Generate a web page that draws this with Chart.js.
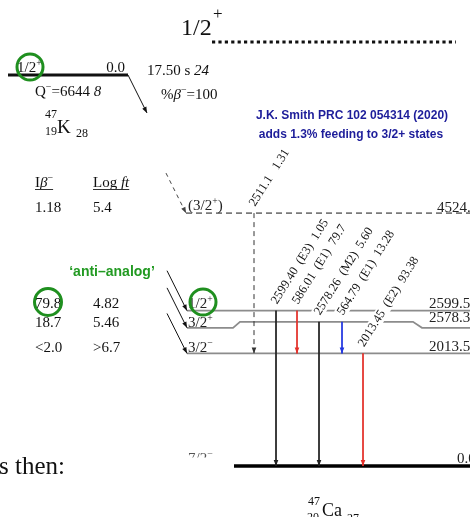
<!DOCTYPE html>
<html>
<head>
<meta charset="utf-8">
<script src="https://cdn.jsdelivr.net/npm/chart.js@4.4.0/dist/chart.umd.min.js"></script>
<style>
  html, body { margin: 0; padding: 0; background: #fff; }
  canvas { display: block; }
</style>
</head>
<body>
<canvas id="scheme" width="470" height="517"></canvas>
<script>
// =========================
// Data: 47K beta- decay to levels of 47Ca
// =========================

const levelEnergies = [0, 2013.5, 2578.3, 2599.5, 4524];
const levelSpins    = ["7/2\u2212", "3/2\u2212", "3/2+", "1/2+", "(3/2+)"];
const betaIntensity = ["", "<2.0", "18.7", "79.8", "1.18"];
const betaLogft     = ["", ">6.7", "5.46", "4.82", "5.4"];

const gammaEnergies = ["2511.1", "2599.40", "586.01", "2578.26", "564.79", "2013.45"];
const gammaMult     = ["", "E3", "E1", "M2", "E1", "E2"];
const gammaIntens   = ["1.31", "1.05", "79.7", "5.60", "13.28", "93.38"];
const gammaFrom     = [4, 3, 3, 2, 2, 1];   // index into levelEnergies
const gammaTo       = [1, 0, 1, 0, 1, 0];

// =========================
// Layout (pixels / drawing only)
// =========================

const KEV_PER_PX = 1 / 0.0559;
const Y_MAX = 466 * KEV_PER_PX;
const Y_MIN = Y_MAX - 517 * KEV_PER_PX;

// [x, vertical shift in px (+ = down)] for every level line
const levelPaths = [
  [[234, 0], [470, 0]],
  [[187, 0], [470, 0]],
  [[187, 6], [233, 6], [240, 0], [413, 0], [422, 6], [470, 6]],
  [[187, -10], [470, -10]],
  [[186, 0], [470, 0]]
];
const gammaX     = [254, 276, 297, 319, 342, 363];
const gammaColor = ["#333", "#222", "#e3302a", "#222", "#2236e0", "#e3302a"];
const spinBase   = [463, 352, 327, 308, 210];   // text baselines, left column
const energyBase = [463, 351, 322, 308, 212];   // text baselines, right column
const tableBase  = [0, 352, 327, 308, 212];

const SERIF = '"Liberation Serif", "Times New Roman", serif';
const SANS  = '"Liberation Sans", Arial, sans-serif';
const font  = (size, style) => (style ? style + " " : "") + size + "px " + SERIF;

function shiftAt(i, x) {
  const p = levelPaths[i];
  for (let k = 1; k < p.length; k++) {
    if (x <= p[k][0]) {
      const [x0, s0] = p[k - 1], [x1, s1] = p[k];
      return s0 + (s1 - s0) * (x - x0) / (x1 - x0);
    }
  }
  return p[p.length - 1][1];
}
const drawnE = (i, x) => levelEnergies[i] - shiftAt(i, x) * KEV_PER_PX;

// =========================
// Datasets
// =========================

const datasets = [];

levelEnergies.forEach((E, i) => {
  datasets.push({
    data: levelPaths[i].map(([x, s]) => ({ x, y: E - s * KEV_PER_PX })),
    borderColor: i === 0 ? "#000" : (i === 4 ? "#7a7a7a" : "#8c8c8c"),
    borderWidth: i === 0 ? 3.5 : 1.8,
    borderDash: i === 4 ? [6, 4] : [],
    order: 2
  });
});

gammaEnergies.forEach((g, k) => {
  const x = gammaX[k];
  datasets.push({
    data: [{ x, y: drawnE(gammaFrom[k], x) }, { x, y: drawnE(gammaTo[k], x) }],
    borderColor: gammaColor[k],
    borderWidth: 1,
    borderDash: k === 0 ? [5, 4] : [],
    arrow: true,
    order: 1
  });
});

// beta feeding arrows into the levels
levelEnergies.forEach((E, i) => {
  if (!betaIntensity[i]) return;
  const xEnd = i === 4 ? 186 : 187;
  const yEnd = drawnE(i, xEnd);
  datasets.push({
    data: [{ x: xEnd - 20, y: yEnd + 40 * KEV_PER_PX }, { x: xEnd, y: yEnd }],
    borderColor: i === 4 ? "#444" : "#111",
    borderWidth: 1,
    borderDash: i === 4 ? [4, 4] : [],
    arrow: true,
    order: 1
  });
});

// =========================
// Drawing helpers
// =========================

function arrowHead(ctx, x0, y0, x1, y1, color) {
  const a = Math.atan2(y1 - y0, x1 - x0);
  const len = 6, half = 2.3;
  ctx.save();
  ctx.fillStyle = color;
  ctx.setLineDash([]);
  ctx.beginPath();
  ctx.moveTo(x1, y1);
  ctx.lineTo(x1 - len * Math.cos(a) + half * Math.sin(a), y1 - len * Math.sin(a) - half * Math.cos(a));
  ctx.lineTo(x1 - len * Math.cos(a) - half * Math.sin(a), y1 - len * Math.sin(a) + half * Math.cos(a));
  ctx.closePath();
  ctx.fill();
  ctx.restore();
}

// parts: { t, f, dy, c }
function runs(ctx, x, y, parts) {
  let cx = x;
  parts.forEach(p => {
    ctx.font = p.f;
    ctx.fillStyle = p.c || "#111";
    ctx.fillText(p.t, cx, y + (p.dy || 0));
    cx += ctx.measureText(p.t).width;
  });
  return cx;
}

function spinParts(s, size, c) {
  // "3/2+" -> "3/2" + superscript sign
  const m = s.match(/^(\(?)([0-9/]+)([+\u2212])(\)?)$/);
  return [
    { t: m[1] + m[2], f: font(size), c },
    { t: m[3], f: font(size * 0.65), dy: -size * 0.38, c },
    { t: m[4], f: font(size), c }
  ];
}

function circle(ctx, x, y, r) {
  ctx.save();
  ctx.strokeStyle = "#1f8f1f";
  ctx.lineWidth = 3;
  ctx.beginPath();
  ctx.arc(x, y, r, 0, Math.PI * 2);
  ctx.stroke();
  ctx.restore();
}

// =========================
// Plugins
// =========================

const gammaLabels = {
  id: "gammaLabels",
  afterDatasetDraw(chart, args) {
    if (args.index !== 0) return;   // right after the last level line, before the gammas
    const ctx = chart.ctx;
    gammaEnergies.forEach((g, k) => {
      const p = chart.getDatasetMeta(levelEnergies.length + k).data[0];
      const txt = gammaMult[k] ? g + "  (" + gammaMult[k] + ")  " + gammaIntens[k] : g + "   " + gammaIntens[k];
      ctx.save();
      ctx.translate(p.x + 1, p.y - 6);
      ctx.rotate(-58 * Math.PI / 180);
      ctx.font = font(12.5);
      const w = ctx.measureText(txt).width;
      ctx.fillStyle = "#fff";
      ctx.fillRect(-1, -10, w + 2, 13);
      ctx.fillStyle = "#111";
      ctx.fillText(txt, 0, 0);
      ctx.restore();
    });
  }
};

const decorations = {
  id: "decorations",
  afterDatasetsDraw(chart) {
    const ctx = chart.ctx;

    // arrowheads at the end of gamma and beta lines
    chart.data.datasets.forEach((ds, i) => {
      if (!ds.arrow) return;
      const pts = chart.getDatasetMeta(i).data;
      const a = pts[pts.length - 2], b = pts[pts.length - 1];
      arrowHead(ctx, a.x, a.y, b.x, b.y, ds.borderColor);
    });

    ctx.save();
    ctx.textBaseline = "alphabetic";

    // analog state marker on top
    runs(ctx, 181, 35, [{ t: "1/2", f: font(24) }]);
    runs(ctx, 213, 19, [{ t: "+", f: font(17) }]);
    ctx.strokeStyle = "#111";
    ctx.lineWidth = 3;
    ctx.setLineDash([3.2, 3.2]);
    ctx.beginPath(); ctx.moveTo(212, 42); ctx.lineTo(456, 42); ctx.stroke();
    ctx.setLineDash([]);

    // parent 47K
    ctx.lineWidth = 3;
    ctx.beginPath(); ctx.moveTo(8, 75); ctx.lineTo(128, 75); ctx.stroke();
    ctx.lineWidth = 1;
    ctx.beginPath(); ctx.moveTo(128, 75); ctx.lineTo(147, 113); ctx.stroke();
    arrowHead(ctx, 128, 75, 147, 113, "#111");

    runs(ctx, 17, 72, spinParts("1/2+", 15));
    ctx.textAlign = "right";
    runs(ctx, 125, 72, [{ t: "0.0", f: font(15) }]);
    ctx.textAlign = "left";
    runs(ctx, 147, 75, [{ t: "17.50 s ", f: font(15) }, { t: "24", f: font(15, "italic") }]);
    runs(ctx, 35, 96, [
      { t: "Q", f: font(15) }, { t: "\u2212", f: font(10), dy: -6 },
      { t: "=6644 ", f: font(15) }, { t: "8", f: font(15, "italic") }
    ]);
    runs(ctx, 161, 99, [
      { t: "%", f: font(15) }, { t: "\u03b2", f: font(15, "italic") },
      { t: "\u2212", f: font(10), dy: -6 }, { t: "=100", f: font(15) }
    ]);
    runs(ctx, 45, 118, [{ t: "47", f: font(12) }]);
    runs(ctx, 45, 135, [{ t: "19", f: font(12) }]);
    runs(ctx, 57, 133, [{ t: "K", f: font(19) }]);
    runs(ctx, 76, 137, [{ t: "28", f: font(12) }]);

    // reference note
    ctx.textAlign = "center";
    ctx.fillStyle = "#1d1d9a";
    ctx.font = "bold 12px " + SANS;
    ctx.fillText("J.K. Smith PRC 102 054314 (2020)", 352, 119);
    ctx.fillText("adds 1.3% feeding to 3/2+ states", 351, 138);
    ctx.fillStyle = "#229a22";
    ctx.font = "bold 14px " + SANS;
    ctx.fillText("\u2018anti\u2013analog\u2019", 112, 276);
    ctx.textAlign = "left";

    // beta table
    const e1 = runs(ctx, 35, 187, [
      { t: "I", f: font(15) }, { t: "\u03b2", f: font(15, "italic") }, { t: "\u2212", f: font(10), dy: -6 }
    ]);
    const e2 = runs(ctx, 93, 187, [{ t: "Log ", f: font(15) }, { t: "ft", f: font(15, "italic") }]);
    ctx.strokeStyle = "#333";
    ctx.lineWidth = 1;
    ctx.beginPath();
    ctx.moveTo(35, 189.5); ctx.lineTo(e1, 189.5);
    ctx.moveTo(93, 189.5); ctx.lineTo(e2, 189.5);
    ctx.stroke();

    levelEnergies.forEach((E, i) => {
      if (!betaIntensity[i]) return;
      runs(ctx, 35, tableBase[i], [{ t: betaIntensity[i], f: font(15) }]);
      runs(ctx, 93, tableBase[i], [{ t: betaLogft[i], f: font(15) }]);
    });

    // level spins (left) and energies (right)
    levelEnergies.forEach((E, i) => {
      if (i === 0) return;
      runs(ctx, 188, spinBase[i], spinParts(levelSpins[i], 15, "#222"));
      runs(ctx, i === 4 ? 437 : 429, energyBase[i], [{ t: E.toFixed(1), f: font(15), c: "#222" }]);
    });
    runs(ctx, 457, energyBase[0], [{ t: levelEnergies[0].toFixed(1), f: font(15), c: "#222" }]);

    // ground-state spin, partly hidden
    ctx.save();
    ctx.beginPath(); ctx.rect(180, 440, 60, 17.5); ctx.clip();
    runs(ctx, 188, spinBase[0], [{ t: "7/2", f: font(15), c: "#555" }, { t: "\u2212", f: font(10), dy: -6, c: "#555" }]);
    ctx.restore();

    // circles
    circle(ctx, 30, 67, 13);
    circle(ctx, 48, 302, 13.5);
    circle(ctx, 203, 302, 13);

    // daughter 47Ca
    runs(ctx, 308, 505, [{ t: "47", f: font(12) }]);
    runs(ctx, 307, 521, [{ t: "20", f: font(12) }]);
    runs(ctx, 322, 516, [{ t: "Ca", f: font(18) }]);
    runs(ctx, 347, 522, [{ t: "27", f: font(12) }]);

    // running text from the page
    runs(ctx, -1, 474, [{ t: "s then:", f: font(25) }]);

    ctx.restore();
  }
};

// =========================
// Chart
// =========================

new Chart(document.getElementById("scheme"), {
  type: "scatter",
  data: {
    datasets: datasets.map(d => Object.assign({
      showLine: true, pointRadius: 0, fill: false, tension: 0
    }, d))
  },
  options: {
    responsive: false,
    animation: false,
    devicePixelRatio: 1,
    events: [],
    layout: { padding: 0 },
    plugins: { legend: { display: false }, tooltip: { enabled: false } },
    scales: {
      x: { type: "linear", min: 0, max: 470, display: false },
      y: { type: "linear", min: Y_MIN, max: Y_MAX, display: false }
    }
  },
  plugins: [gammaLabels, decorations]
});
</script>
</body>
</html>
